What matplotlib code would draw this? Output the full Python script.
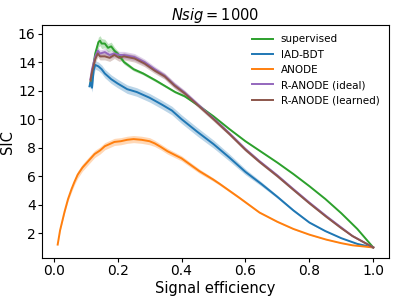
import matplotlib
matplotlib.use("Agg")
import matplotlib.pyplot as plt
import numpy as np

# supervised
x_sup = [0.115, 0.12, 0.13, 0.14, 0.145, 0.15, 0.16, 0.17, 0.18, 0.19, 0.2, 0.22, 0.25, 0.28,
         0.32, 0.35, 0.38, 0.41, 0.45, 0.5, 0.55, 0.6, 0.65, 0.7, 0.75, 0.8, 0.85, 0.9, 0.95, 1.0]
y_sup = [12.5, 13.2, 14.6, 15.4, 15.5, 15.3, 15.3, 15.0, 15.1, 14.8, 14.6, 14.0, 13.5, 13.2,
         12.7, 12.3, 11.9, 11.6, 11.0, 10.2, 9.3, 8.45, 7.7, 6.95, 6.15, 5.3, 4.4, 3.4, 2.3, 1.0]
e_sup = [0.2, 0.25, 0.3, 0.35, 0.35, 0.35, 0.3, 0.3, 0.3, 0.25, 0.2, 0.15, 0.12, 0.1,
         0.1, 0.08, 0.08, 0.07, 0.06, 0.05, 0.05, 0.04, 0.04, 0.03, 0.03, 0.03, 0.02, 0.02, 0.02, 0.0]

# IAD-BDT
x_iad = [0.112, 0.115, 0.12, 0.125, 0.13, 0.14, 0.15, 0.16, 0.17, 0.18, 0.2, 0.23, 0.26, 0.3,
         0.34, 0.37, 0.4, 0.45, 0.5, 0.55, 0.6, 0.65, 0.7, 0.75, 0.8, 0.85, 0.9, 0.95, 1.0]
y_iad = [12.3, 12.6, 12.2, 13.4, 13.8, 13.7, 13.5, 13.2, 13.0, 12.8, 12.5, 12.1, 11.9, 11.5,
         11.0, 10.6, 10.0, 9.1, 8.25, 7.3, 6.3, 5.45, 4.55, 3.6, 2.75, 2.15, 1.65, 1.25, 1.0]
e_iad = [0.2, 0.25, 0.3, 0.3, 0.3, 0.3, 0.3, 0.3, 0.3, 0.3, 0.3, 0.3, 0.3, 0.3,
         0.3, 0.3, 0.3, 0.3, 0.28, 0.25, 0.2, 0.15, 0.1, 0.08, 0.06, 0.04, 0.03, 0.02, 0.0]

# ANODE
x_anode = [0.0125, 0.02, 0.034, 0.045, 0.056, 0.065, 0.075, 0.09, 0.106, 0.12, 0.128, 0.145,
           0.16, 0.175, 0.19, 0.21, 0.23, 0.25, 0.275, 0.3, 0.316, 0.335, 0.356, 0.4, 0.456,
           0.5, 0.52, 0.58, 0.644, 0.7, 0.75, 0.8, 0.853, 0.9, 0.935, 1.0]
y_anode = [1.2, 2.2, 3.5, 4.4, 5.1, 5.6, 6.1, 6.6, 7.0, 7.35, 7.55, 7.8,
           8.1, 8.25, 8.4, 8.45, 8.55, 8.6, 8.55, 8.45, 8.3, 8.05, 7.75, 7.25, 6.35,
           5.75, 5.45, 4.5, 3.45, 2.8, 2.3, 1.9, 1.55, 1.3, 1.15, 1.0]
e_anode = [0.02, 0.05, 0.1, 0.15, 0.2, 0.2, 0.25, 0.25, 0.25, 0.25, 0.25, 0.25,
           0.25, 0.25, 0.25, 0.25, 0.25, 0.25, 0.25, 0.25, 0.22, 0.2, 0.2, 0.18, 0.15,
           0.12, 0.1, 0.08, 0.06, 0.05, 0.04, 0.03, 0.02, 0.02, 0.01, 0.0]

# R-ANODE (ideal / learned)
x_ranode = [0.115, 0.12, 0.13, 0.138, 0.145, 0.16, 0.175, 0.19, 0.205, 0.22, 0.253, 0.284,
            0.316, 0.347, 0.378, 0.41, 0.45, 0.5, 0.55, 0.6, 0.644, 0.7, 0.747, 0.8, 0.853,
            0.9, 0.935, 1.0]
y_ideal = [12.8, 13.5, 14.4, 14.8, 14.6, 14.7, 14.5, 14.6, 14.5, 14.5, 14.35, 14.0,
           13.5, 13.05, 12.4, 11.85, 11.05, 10.05, 9.0, 7.9, 7.05, 6.05, 5.15, 4.15, 3.2,
           2.4, 1.8, 1.0]
y_learned = [12.7, 13.3, 14.2, 14.6, 14.4, 14.4, 14.3, 14.5, 14.3, 14.4, 14.25, 13.9,
             13.4, 13.0, 12.35, 11.8, 11.0, 10.0, 8.95, 7.85, 7.0, 6.0, 5.1, 4.1, 3.15,
             2.35, 1.8, 1.0]
e_ranode = [0.2, 0.25, 0.25, 0.25, 0.25, 0.25, 0.25, 0.25, 0.25, 0.25, 0.25, 0.22,
            0.2, 0.2, 0.2, 0.18, 0.15, 0.15, 0.12, 0.12, 0.1, 0.1, 0.08, 0.08, 0.06,
            0.05, 0.04, 0.0]

series = [
    ("supervised", x_sup, y_sup, e_sup, "tab:green"),
    ("IAD-BDT", x_iad, y_iad, e_iad, "tab:blue"),
    ("ANODE", x_anode, y_anode, e_anode, "tab:orange"),
    ("R-ANODE (ideal)", x_ranode, y_ideal, e_ranode, "tab:purple"),
    ("R-ANODE (learned)", x_ranode, y_learned, e_ranode, "tab:brown"),
]

fig = plt.figure(figsize=(3.99, 2.99), dpi=100)
ax = fig.add_axes([0.105, 0.137, 0.87, 0.779])

for label, x, y, e, c in series:
    x = np.array(x)
    y = np.array(y)
    e = np.array(e)
    ax.plot(x, y, color=c, lw=1.4, label=label)
    ax.fill_between(x, y - e, y + e, color=c, alpha=0.3, lw=0)

ax.set_xlabel("Signal efficiency", fontsize=10.5, labelpad=2)
ax.set_ylabel("SIC", fontsize=10.5, labelpad=2)
ax.set_title("$Nsig = 1000$", fontsize=10.5, pad=4)
ax.tick_params(labelsize=10, length=3, pad=1.5)
ax.set_yticks([2, 4, 6, 8, 10, 12, 14, 16])
ax.legend(loc="upper right", frameon=False, fontsize=7.5)

fig.savefig("out.png", dpi=100)
